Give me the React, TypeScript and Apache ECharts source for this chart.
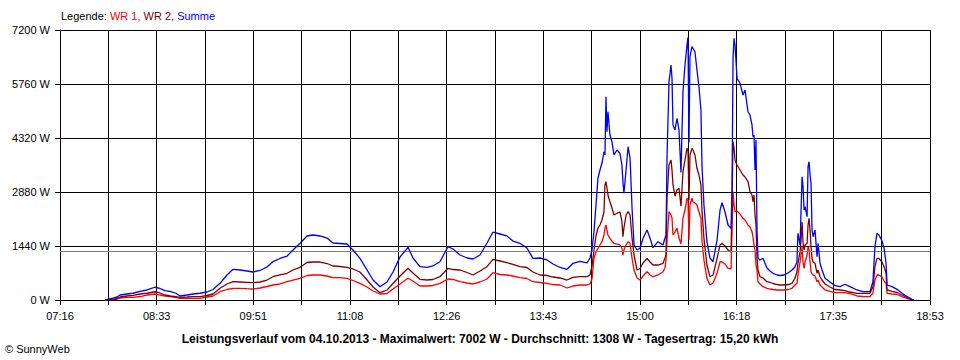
import React, { useEffect, useRef } from "react";
import * as echarts from "echarts";

// Time axis: minutes since midnight
const START_MIN = 436; // 07:16
const END_MIN = 1133; // 18:53
const X_DIVISIONS = 18;
const xTickLabels = ["07:16", "08:33", "09:51", "11:08", "12:26", "13:43", "15:00", "16:18", "17:35", "18:53"];
const Y_MAX = 7200;
const Y_STEP = 1440;
const average = 1308;

const legendPrefix = "Legende:";
const legendNames = ["WR 1", "WR 2", "Summe"];
const chartTitle =
  "Leistungsverlauf vom 04.10.2013 - Maximalwert: 7002 W - Durchschnitt: 1308 W - Tagesertrag: 15,20 kWh";
const credit = "© SunnyWeb";

// sample times (minutes since midnight)
const minutes = [
  472.1, 478.5, 481.7, 484.1, 489.7, 494.5, 500.1, 505.7, 512.1, 516.1,
  520.1, 524.1, 528.9, 532.1, 537.7, 542.6, 548.2, 553.8, 558.6, 564.2,
  569.8, 574.6, 580.2, 585.8, 590.6, 596.2, 601.8, 606.6, 612.3, 617.9,
  622.7, 628.3, 633.9, 638.7, 644.3, 649.9, 654.7, 660.3, 665.9, 670.7,
  676.3, 682.0, 686.8, 692.4, 698.0, 702.8, 708.4, 714.8, 718.8, 724.4,
  730.0, 734.8, 740.4, 746.8, 750.9, 756.5, 762.1, 766.9, 772.5, 778.1,
  782.9, 788.5, 794.1, 798.9, 804.5, 810.1, 814.9, 820.6, 826.2, 831.0,
  836.6, 842.2, 847.0, 852.6, 858.2, 860.6, 862.2, 863.8, 865.4, 867.0,
  868.6, 870.2, 871.8, 872.6, 873.4, 874.2, 875.0, 876.6, 878.2, 879.8,
  882.2, 884.6, 886.2, 887.0, 887.8, 889.5, 891.1, 892.7, 894.3, 895.9,
  898.3, 900.7, 903.1, 906.3, 908.7, 911.1, 915.1, 919.1, 920.7, 921.5,
  922.3, 923.9, 925.5, 926.3, 927.1, 928.7, 930.3, 931.9, 933.5, 935.1,
  936.7, 938.3, 939.1, 939.9, 940.7, 942.3, 943.1, 944.7, 946.3, 947.9,
  949.5, 950.3, 951.9, 954.3, 956.7, 959.2, 962.4, 964.8, 966.4, 968.8,
  971.2, 973.6, 974.4, 975.2, 976.0, 976.8, 978.4, 980.8, 983.2, 984.8,
  987.2, 988.8, 990.4, 991.2, 992.0, 992.8, 993.6, 994.4, 995.2, 996.8,
  999.2, 1002.4, 1004.8, 1007.2, 1010.4, 1012.8, 1016.0, 1019.2, 1022.4, 1024.8,
  1026.4, 1027.2, 1028.9, 1029.7, 1030.5, 1031.3, 1032.1, 1032.9, 1034.5, 1035.3,
  1036.1, 1036.9, 1037.7, 1038.5, 1039.3, 1040.9, 1042.5, 1043.3, 1044.9, 1046.5,
  1048.9, 1052.9, 1056.9, 1060.9, 1064.9, 1068.9, 1074.5, 1079.3, 1084.9, 1087.3,
  1088.9, 1090.5, 1092.1, 1094.5, 1096.2, 1097.8, 1098.6, 1102.6, 1106.6, 1110.6,
  1114.6, 1118.6, 1120.2,
];

// WR 1 (W)
const wr1 = [
  0, 13, 20, 53, 72, 72, 93, 133, 160, 133,
  107, 93, 67, 45, 45, 45, 45, 80, 107, 221,
  280, 312, 312, 301, 293, 320, 360, 400, 427, 488,
  533, 579, 653, 667, 667, 640, 595, 595, 579, 520,
  445, 347, 240, 160, 173, 293, 427, 579, 507, 373,
  373, 387, 445, 560, 547, 488, 453, 427, 480, 560,
  728, 680, 667, 640, 595, 573, 488, 467, 445, 413,
  400, 320, 373, 400, 400, 427, 560, 1112, 1280, 1379,
  1467, 1555, 1733, 1912, 2000, 1867, 1733, 1645, 1573, 1512,
  1493, 1467, 1387, 1200, 1333, 1467, 1555, 1512, 1112, 800,
  587, 533, 640, 755, 667, 621, 667, 755, 853, 1067,
  1555, 2355, 2267, 2187, 1733, 1813, 1920, 1653, 1500, 2179,
  2400, 2712, 2667, 1600, 2533, 2712, 2621, 2587, 2533, 2347,
  2179, 1600, 1067, 579, 400, 453, 712, 1021, 1013, 960,
  845, 827, 1821, 2888, 2533, 2355, 2373, 2293, 2179, 2133,
  2000, 1947, 1821, 1680, 1467, 1333, 933, 800, 488, 427,
  355, 312, 293, 280, 267, 267, 267, 280, 312, 400,
  445, 667, 1013, 1200, 1421, 1013, 845, 1013, 1200, 1421,
  1333, 1013, 755, 693, 667, 640, 488, 533, 400, 347,
  267, 227, 195, 195, 195, 173, 107, 93, 88, 187,
  533, 667, 667, 613, 507, 445, 179, 160, 147, 88,
  40, 13, 0,
];

// WR 2 (W)
const wr2 = [
  0, 13, 45, 80, 107, 125, 160, 180, 220, 187,
  133, 107, 88, 72, 80, 88, 88, 120, 160, 312,
  427, 488, 480, 472, 461, 480, 533, 621, 667, 712,
  800, 872, 1000, 1013, 1013, 973, 907, 893, 872, 827,
  747, 533, 347, 195, 267, 440, 640, 845, 720, 552,
  533, 547, 621, 845, 813, 800, 733, 667, 773, 888,
  1085, 1040, 995, 947, 888, 867, 747, 667, 653, 613,
  587, 533, 605, 621, 621, 667, 907, 1333, 1707, 1920,
  2000, 2133, 2347, 3067, 3155, 2987, 2800, 2621, 2453, 2267,
  2312, 2347, 2088, 1688, 1920, 2267, 2355, 2267, 1645, 1200,
  800, 840, 987, 1112, 1013, 933, 933, 979, 1120, 1200,
  2712, 3600, 3733, 3467, 3067, 2773, 2933, 2979, 2500, 3421,
  3733, 4045, 4000, 2667, 3867, 4045, 4000, 3867, 3512, 3333,
  3067, 2400, 1645, 933, 621, 667, 1112, 1467, 1512, 1440,
  1333, 1280, 2667, 4221, 4053, 3733, 3600, 3467, 3333, 3280,
  3155, 2888, 2800, 2621, 2800, 2267, 2000, 1112, 800, 621,
  587, 488, 467, 440, 413, 400, 400, 413, 445, 579,
  747, 979, 1280, 1600, 2088, 1520, 1333, 1467, 1512, 2000,
  2179, 1867, 1421, 1112, 1013, 979, 712, 800, 621, 533,
  427, 347, 280, 267, 248, 213, 179, 179, 179, 355,
  888, 1112, 1112, 1013, 888, 712, 267, 227, 200, 133,
  67, 13, 0,
];

// Summe (W)
const summe = [
  0, 53, 80, 133, 160, 180, 232, 267, 340, 307,
  248, 232, 180, 107, 133, 160, 180, 213, 280, 445,
  667, 819, 800, 773, 747, 787, 880, 1021, 1107, 1173,
  1333, 1512, 1707, 1733, 1707, 1653, 1520, 1507, 1493, 1333,
  1112, 800, 533, 355, 480, 747, 1147, 1405, 1120, 888,
  872, 907, 1021, 1421, 1360, 1200, 1120, 1093, 1200, 1520,
  1813, 1760, 1707, 1573, 1512, 1387, 1112, 1120, 1067, 960,
  867, 819, 979, 1027, 987, 1120, 1333, 1821, 2533, 3253,
  3467, 3653, 3947, 3867, 5421, 4488, 5021, 4400, 4221, 3867,
  4000, 3912, 3600, 3155, 2845, 3467, 4088, 3779, 2445, 1467,
  1333, 1379, 1645, 1867, 1645, 1395, 1555, 1467, 1653, 1733,
  3779, 5821, 6267, 5912, 4667, 4533, 4845, 4533, 3400, 5555,
  6267, 6800, 7002, 4200, 6488, 6755, 6712, 6621, 6133, 5688,
  5067, 3600, 2533, 1555, 1120, 1021, 1600, 2400, 2595, 2347,
  2000, 1912, 2933, 6445, 6980, 6800, 5912, 5779, 5467, 5600,
  5021, 4933, 4667, 4355, 4400, 3467, 4267, 1867, 1120, 1067,
  1112, 853, 773, 712, 667, 653, 667, 720, 800, 880,
  1013, 1779, 1467, 2400, 3288, 3021, 2400, 2488, 2221, 3555,
  3688, 3333, 3112, 1867, 1688, 1867, 1155, 1512, 979, 800,
  579, 480, 381, 355, 419, 355, 267, 221, 221, 488,
  1421, 1779, 1733, 1581, 1379, 979, 400, 355, 285, 179,
  88, 19, 0,
];

const seriesColors = ["#ff0000", "#800000", "#0000ff"];

export default function App() {
  const ref = useRef<HTMLDivElement>(null);

  useEffect(() => {
    if (!ref.current) return;
    const chart = echarts.init(ref.current, null, { renderer: "svg" });
    const span = END_MIN - START_MIN;
    const step = span / X_DIVISIONS;
    const font = "'Liberation Sans', Arial, sans-serif";
    const toPoints = (vals: number[]) => minutes.map((m, i) => [m - START_MIN, vals[i]]);
    const seriesData = [wr1, wr2, summe];

    chart.setOption({
      animation: false,
      backgroundColor: "#ffffff",
      textStyle: { fontFamily: font },
      grid: { left: 60, right: 30, top: 30, bottom: 60, containLabel: false },
      title: [
        {
          left: 61,
          top: 10,
          padding: 0,
          text: `{k|${legendPrefix}} {a|${legendNames[0]},} {b|${legendNames[1]},} {c|${legendNames[2]}}`,
          textStyle: {
            fontSize: 11,
            fontWeight: "normal",
            fontFamily: font,
            rich: {
              k: { color: "#000000", fontSize: 11, fontFamily: font },
              a: { color: seriesColors[0], fontSize: 11, fontFamily: font },
              b: { color: seriesColors[1], fontSize: 11, fontFamily: font },
              c: { color: seriesColors[2], fontSize: 11, fontFamily: font },
            },
          },
        },
        {
          left: "center",
          top: 328,
          text: chartTitle,
          textStyle: { fontSize: 12, fontWeight: "bold", color: "#000000", fontFamily: font },
        },
        {
          left: 5,
          top: 343,
          padding: 0,
          text: credit,
          textStyle: { fontSize: 11, fontWeight: "normal", color: "#000000", fontFamily: font },
        },
      ],
      xAxis: {
        type: "value",
        min: 0,
        max: span,
        interval: step,
        axisLine: { show: true, lineStyle: { color: "#000000", width: 1 } },
        axisTick: { show: true, length: 5, lineStyle: { color: "#000000" } },
        splitLine: { show: true, lineStyle: { color: "#000000", width: 1 } },
        axisLabel: {
          color: "#000000",
          fontSize: 11,
          fontFamily: font,
          margin: 10,
          showMinLabel: true,
          showMaxLabel: true,
          formatter: (v: number) => {
            const i = Math.round(v / step);
            return i % 2 === 0 ? xTickLabels[i / 2] ?? "" : "";
          },
        },
      },
      yAxis: {
        type: "value",
        min: 0,
        max: Y_MAX,
        interval: Y_STEP,
        axisLine: { show: true, lineStyle: { color: "#000000", width: 1 } },
        axisTick: { show: true, length: 5, lineStyle: { color: "#000000" } },
        splitLine: { show: true, lineStyle: { color: "#000000", width: 1 } },
        axisLabel: {
          color: "#000000",
          fontSize: 11,
          fontFamily: font,
          margin: 10,
          formatter: (v: number) => `${v} W`,
        },
      },
      series: legendNames.map((name, k) => ({
        name,
        type: "line",
        data: toPoints(seriesData[k]),
        showSymbol: false,
        symbol: "none",
        silent: true,
        lineStyle: { color: seriesColors[k], width: 1.3 },
        itemStyle: { color: seriesColors[k] },
        z: 3 + k,
        markLine:
          k === 0
            ? {
                silent: true,
                symbol: "none",
                label: { show: false },
                lineStyle: { color: "#808080", width: 1, type: "solid" },
                data: [{ yAxis: average }],
              }
            : undefined,
      })),
    });

    return () => chart.dispose();
  }, []);

  return (
    <div
      ref={ref}
      style={{ position: "fixed", left: 0, top: 0, width: 960, height: 360, background: "#ffffff" }}
    />
  );
}
